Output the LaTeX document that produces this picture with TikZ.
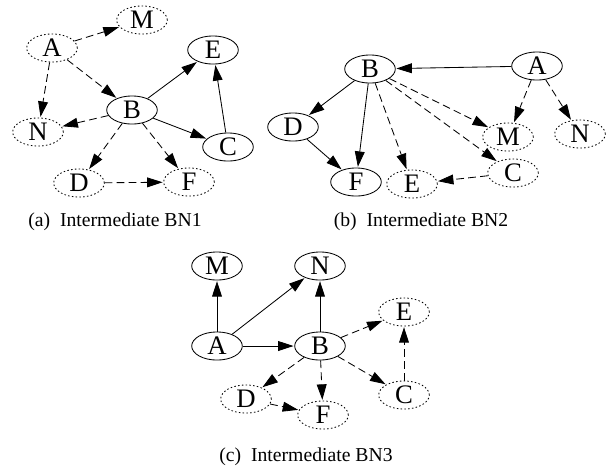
\documentclass[tikz,border=0pt]{standalone}
\usepackage{fontspec}
\setmainfont{Liberation Serif}
\usepackage{tikz}
\usetikzlibrary{arrows.meta,shapes.geometric}

\begin{document}
\begin{tikzpicture}[x=0.025cm,y=-0.025cm,
  font=\fontsize{19}{21}\selectfont,
  var/.style={draw,ellipse,line width=0.6pt,inner sep=0pt,
              minimum width=36pt,minimum height=20pt},
  hvar/.style={var,dash pattern=on 1.1pt off 1.6pt},
  arr/.style={-{Triangle[length=11pt,width=7pt]},line width=0.6pt,shorten >=0.5pt},
  darr/.style={arr,dash pattern=on 5.5pt off 3pt},
  captxt/.style={anchor=base,font=\fontsize{14}{16}\selectfont}]
\useasboundingbox (0,0) rectangle (611,470);
% (a) intermediate BN1
\node[hvar] (aA) at (52,48) {A};
\node[hvar] (aM) at (142,20) {M};
\node[var]  (aE) at (213,50) {E};
\node[var]  (aB) at (132,110) {B};
\node[hvar] (aN) at (38,132) {N};
\node[var]  (aC) at (228,147) {C};
\node[hvar] (aD) at (79,183) {D};
\node[hvar] (aF) at (189,182) {F};
\draw[darr] (aA)--(aM);
\draw[darr] (aA)--(aN);
\draw[darr] (aA)--(aB);
\draw[arr]  (aB)--(aE);
\draw[darr] (aB)--(aN);
\draw[arr]  (aB)--(aC);
\draw[darr] (aB)--(aD);
\draw[darr] (aB)--(aF);
\draw[arr]  (aC)--(aE);
\draw[darr] (aD)--(aF);
\node[captxt] (capa) at (115,226) {(a)\hspace{0.5em}Intermediate BN1};
% (b) intermediate BN2
\node[var]  (bB) at (370,69) {B};
\node[var]  (bA) at (537,66) {A};
\node[var]  (bD) at (293,127) {D};
\node[var]  (bF) at (356,182) {F};
\node[hvar] (bE) at (412,184) {E};
\node[hvar] (bC) at (513,173) {C};
\node[hvar] (bM) at (508,137) {M};
\node[hvar] (bN) at (580,134) {N};
\draw[arr]  (bA)--(bB);
\draw[arr]  (bB)--(bD);
\draw[arr]  (bB)--(bF);
\draw[arr]  (bD)--(bF);
\draw[darr] (bB)--(bE);
\draw[darr] (bB)--(bM);
\draw[darr] (bB)--(bC);
\draw[darr] (bA)--(bM);
\draw[darr] (bA)--(bN);
\draw[darr] (bC)--(bE);
\node[captxt] (capb) at (421,226) {(b)\hspace{0.5em}Intermediate BN2};
% (c) intermediate BN3
\node[var]  (cM) at (217,266) {M};
\node[var]  (cN) at (320,266) {N};
\node[var]  (cA) at (217,346) {A};
\node[var]  (cB) at (320,346) {B};
\node[hvar] (cE) at (404,312) {E};
\node[hvar] (cC) at (404,395) {C};
\node[hvar] (cD) at (246,399) {D};
\node[hvar] (cF) at (323,415) {F};
\draw[arr]  (cA)--(cM);
\draw[arr]  (cA)--(cN);
\draw[arr]  (cA)--(cB);
\draw[arr]  (cB)--(cN);
\draw[darr] (cB)--(cE);
\draw[darr] (cB)--(cD);
\draw[darr] (cB)--(cF);
\draw[darr] (cB)--(cC);
\draw[darr] (cC)--(cE);
\draw[darr] (cD)--(cF);
\node[captxt] (capc) at (306,461) {(c)\hspace{0.5em}Intermediate BN3};
\end{tikzpicture}
\end{document}
